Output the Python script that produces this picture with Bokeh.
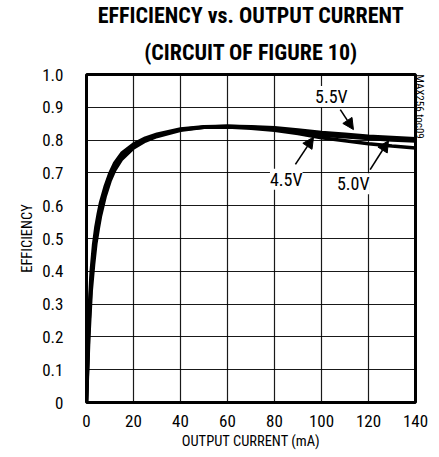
from bokeh.plotting import figure
from bokeh.models import (Range1d, FixedTicker, Title, Label, Arrow, NormalHead, LinearAxis)
from bokeh.embed import file_html
from bokeh.resources import INLINE
import math

FONT = "Roboto Condensed"

# ---- data ----
current_ma = [0, 0.5, 1, 2, 3, 4, 5, 6, 8, 10, 12, 15, 20, 25, 30, 40, 50, 60,
              70, 80, 90, 100, 110, 120, 130, 140]
eff_45v = [0, 0.14, 0.26, 0.40, 0.48, 0.535, 0.575, 0.61, 0.66, 0.70, 0.73, 0.76,
           0.788, 0.806, 0.818, 0.834, 0.841, 0.842, 0.839, 0.834, 0.825, 0.815,
           0.810, 0.805, 0.800, 0.797]
eff_50v = [0, 0.12, 0.23, 0.37, 0.45, 0.51, 0.555, 0.59, 0.645, 0.69, 0.72, 0.752,
           0.782, 0.802, 0.815, 0.832, 0.839, 0.840, 0.836, 0.830, 0.820, 0.807,
           0.798, 0.789, 0.782, 0.776]
eff_55v = [0, 0.10, 0.20, 0.34, 0.42, 0.485, 0.53, 0.57, 0.63, 0.675, 0.708, 0.742,
           0.776, 0.797, 0.811, 0.830, 0.839, 0.842, 0.841, 0.838, 0.831, 0.823,
           0.818, 0.812, 0.808, 0.804]

x_ticks = [0, 20, 40, 60, 80, 100, 120, 140]
y_ticks = [0, 0.1, 0.2, 0.3, 0.4, 0.5, 0.6, 0.7, 0.8, 0.9, 1.0]
y_tick_labels = ["0", "0.1", "0.2", "0.3", "0.4", "0.5", "0.6", "0.7", "0.8", "0.9", "1.0"]

title_line1 = "EFFICIENCY vs. OUTPUT CURRENT"
title_line2 = "(CIRCUIT OF FIGURE 10)"
x_label = "OUTPUT CURRENT (mA)"
y_label = "EFFICIENCY"
side_note = "MAX256  toc09"

# ---- figure ----
p = figure(width=439, height=457, output_backend="svg", toolbar_location=None,
           x_range=Range1d(0, 140), y_range=Range1d(0, 1.0),
           min_border_left=86, min_border_right=24, min_border_top=73,
           min_border_bottom=55)
p.background_fill_color = "white"
p.border_fill_color = "white"
p.outline_line_color = "black"
p.outline_line_width = 3

t2 = Title(text=title_line2, align="center", text_font=FONT, text_font_size="22px",
           text_font_style="bold", text_color="black", offset=0, standoff=20,
           text_line_height=1.0)
t1 = Title(text=title_line1, align="center", text_font=FONT, text_font_size="22px",
           text_font_style="bold", text_color="black", offset=0, standoff=0,
           text_line_height=1.0)
p.add_layout(t2, "above")
p.add_layout(t1, "above")

p.xaxis.ticker = FixedTicker(ticks=x_ticks)
p.yaxis.ticker = FixedTicker(ticks=y_ticks)
p.yaxis.major_label_overrides = {t: l for t, l in zip(y_ticks, y_tick_labels)}
for ax in (p.xaxis, p.yaxis):
    ax.axis_line_color = None
    ax.major_tick_line_color = None
    ax.minor_tick_line_color = None
    ax.major_tick_out = 0
    ax.major_tick_in = 0
    ax.minor_tick_out = 0
    ax.minor_tick_in = 0
    ax.major_label_text_font = FONT
    ax.major_label_text_font_size = "17px"
    ax.major_label_text_color = "black"
    ax.axis_label_text_font = FONT
    ax.axis_label_text_font_size = "14.5px"
    ax.axis_label_text_font_style = "normal"
    ax.axis_label_text_color = "black"
p.xaxis.axis_label = x_label
p.yaxis.axis_label = y_label
p.xaxis.major_label_standoff = 12
p.yaxis.major_label_standoff = 23
p.xaxis.axis_label_standoff = 3
p.yaxis.axis_label_standoff = 3

# side note: label-only axis on the right, aligned to the top of the frame
note_axis = LinearAxis(ticker=FixedTicker(ticks=[]), axis_label=side_note,
                       axis_line_color=None, major_tick_line_color=None,
                       minor_tick_line_color=None, major_tick_out=0, major_tick_in=0,
                       minor_tick_out=0, minor_tick_in=0, major_label_standoff=0,
                       major_label_text_font_size="1px", major_label_text_color=None,
                       axis_label_standoff=4, axis_label_text_font=FONT,
                       axis_label_text_font_size="11px", axis_label_text_font_style="normal",
                       axis_label_text_color="black", axis_label_orientation=-math.pi / 2,
                       axis_label_align="end")
p.add_layout(note_axis, "right")

p.xgrid.ticker = FixedTicker(ticks=x_ticks)
p.ygrid.ticker = FixedTicker(ticks=y_ticks)
p.grid.grid_line_color = "black"
p.grid.grid_line_width = 1.2
p.grid.grid_line_alpha = 0.9

for ys in (eff_50v, eff_45v, eff_55v):
    p.line(current_ma, ys, line_color="black", line_width=3.5)

# ---- annotations ----
lab_kw = dict(text_font=FONT, text_font_size="18px", text_color="black",
              text_align="center", text_baseline="middle",
              background_fill_color="white", background_fill_alpha=1.0)
p.add_layout(Label(x=104.2, y=0.933, text="5.5V", **lab_kw))
p.add_layout(Label(x=85.0, y=0.681, text="4.5V", **lab_kw))
p.add_layout(Label(x=113.5, y=0.667, text="5.0V", **lab_kw))

def arr(x0, y0, x1, y1):
    p.add_layout(Arrow(end=NormalHead(size=11, fill_color="black", line_color="black"),
                       x_start=x0, y_start=y0, x_end=x1, y_end=y1,
                       line_color="black", line_width=1.6))

arr(108.0, 0.893, 113.6, 0.832)
arr(88.9, 0.726, 96.6, 0.809)
arr(120.7, 0.710, 128.5, 0.798)

open("out.html", "w").write(file_html(p, INLINE))
